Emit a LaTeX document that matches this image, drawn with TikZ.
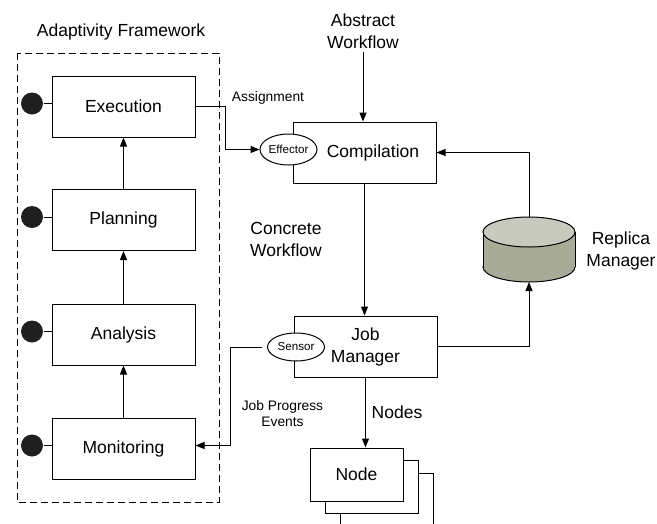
\documentclass[tikz,border=0pt]{standalone}
\usepackage{fontspec}
\setmainfont{Liberation Sans}
\usetikzlibrary{positioning}
\usetikzlibrary{shapes.geometric}
\usetikzlibrary{arrows.meta}

\definecolor{repTopCol}{RGB}{200,202,190}
\definecolor{repSideCol}{RGB}{168,171,152}

\begin{document}
\begin{tikzpicture}[x=1pt, y=-1pt, line width=1pt,
	every node/.style={font=\fontsize{17.5}{22}\selectfont, align=center, inner sep=0pt},
	box/.style={draw, fill=white, minimum width=143pt, minimum height=61pt},
	dot/.style={circle, fill=black!88, minimum size=22pt},
	port/.style={ellipse, draw, fill=white, minimum width=57pt, minimum height=31pt, font=\fontsize{11.6}{14}\selectfont},
	lbl/.style={font=\fontsize{13.8}{16}\selectfont},
	arr/.style={-{Triangle[length=9pt,width=7pt]}}]
				\useasboundingbox (0,0) rectangle (657,523);
				
				% adaptivity framework
				\draw[line width=0.9pt, dash pattern=on 7pt off 4pt] (17,53) rectangle (219,502);
				\node (AF) at (121,32) {Adaptivity Framework};
				\foreach \name/\y in {Execution/106.5, Planning/220, Analysis/334.5, Monitoring/448.5} {
					\node[box] (\name) at (123.5,\y) {\name};
					\node[dot] (dot\name) at (32,\y-3) {};
					\draw (dot\name) -- (dot\name -| \name.west);
				}
				\draw[arr] (Monitoring) -- (Analysis);
				\draw[arr] (Analysis) -- (Planning);
				\draw[arr] (Planning) -- (Execution);
				
				% workflow side
				\node (AW) at (363,31) {Abstract\\Workflow};
				\node[box] (Compilation) at (364.5,152.5) {\hspace*{17pt}Compilation};
				\node[port] (Effector) at (288.5,149.5) {Effector};
				\node (CW) at (286,239) {Concrete\\Workflow};
				\node[box] (JobManager) at (365.5,346.5) {Job\\Manager};
				\node[port, minimum height=28pt] (Sensor) at (296,347) {Sensor};
				
				\node[box, minimum width=93pt, minimum height=53pt] (Node3) at (386.5,499.5) {};
				\node[box, minimum width=93pt, minimum height=53pt] (Node2) at (371.5,487) {};
				\node[box, minimum width=93pt, minimum height=53pt] (Node1) at (356.5,474.5) {Node};
				
				% replica manager
				\fill[repSideCol, draw=black] (529,267) ellipse[x radius=46pt, y radius=15pt];
				\fill[repSideCol] (483,232) rectangle (575,267);
				\draw (483,232) -- (483,267) (575,232) -- (575,267);
				\fill[repTopCol, draw=black] (529,232) ellipse[x radius=46pt, y radius=15pt];
				\coordinate (RepTop) at (529,217);
				\coordinate (RepBot) at (529,282);
				\node (RM) at (621,251) {Replica\\Manager};
				
				\draw[arr, shorten <=3pt] (AW.south) -- (AW.south |- Compilation.north);
				\draw[arr] (Execution.east) -- ++(30,0) |- (Effector.west);
				\node[lbl] (Assign) at (268,98) {Assignment};
				\draw[arr] (Compilation.south) -- (Compilation.south |- JobManager.north);
				\draw[arr] (RepTop) |- (Compilation.east);
				\draw[arr] (JobManager.east) -| (RepBot);
				\draw[arr, shorten <=5pt] (Sensor.west) -- ++(-37,0) |- ([yshift=3pt]Monitoring.east);
				\node[lbl] (JPE) at (282.5,414) {Job Progress\\Events};
				\draw[arr] (JobManager.south) -- (JobManager.south |- Node1.north);
				\node (NodesLbl) at (397,412) {Nodes};
			\end{tikzpicture}
\end{document}
